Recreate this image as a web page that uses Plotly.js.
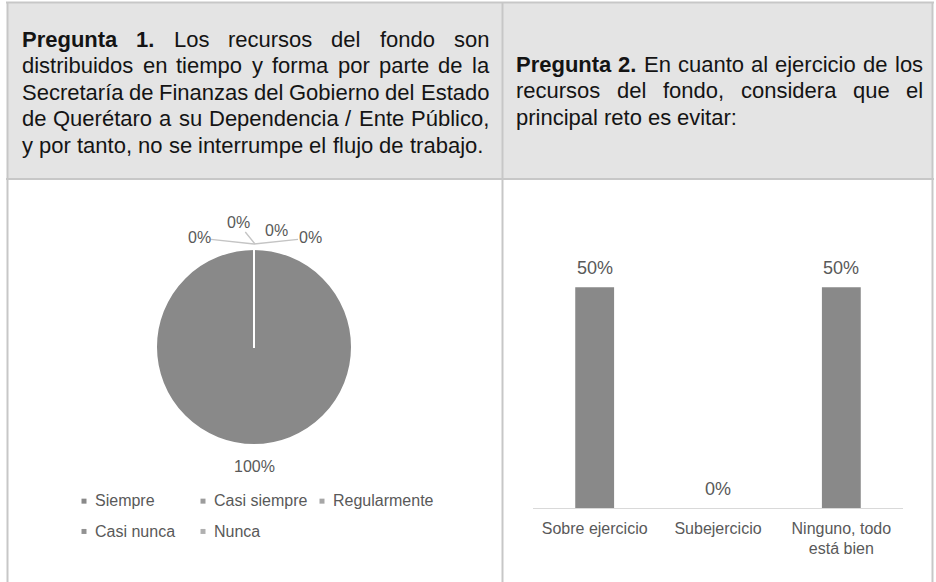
<!DOCTYPE html>
<html>
<head>
<meta charset="utf-8">
<script src="https://cdn.plot.ly/plotly-3.0.1.min.js"></script>
<style>
  html, body { margin: 0; padding: 0; background: #ffffff; overflow: hidden; }
  #wrap { position: relative; width: 936px; height: 582px; }
  #base, #bars { position: absolute; left: 0; top: 0; width: 936px; height: 582px; }
  .legendpie { d: path("M11.5,5.5H6.5V0.5H11.5Z"); stroke-width: 0 !important; }
  .legend .scrollbox { clip-path: none !important; }
</style>
</head>
<body>
<div id="wrap">
  <div id="base"></div>
  <div id="bars"></div>
</div>
<script>
// ---------------- DATA ----------------
const headerLeftLines = [
  ['*Pregunta', '*1.', 'Los', 'recursos', 'del', 'fondo', 'son'],
  ['distribuidos', 'en', 'tiempo', 'y', 'forma', 'por', 'parte', 'de', 'la'],
  ['Secretaría', 'de', 'Finanzas', 'del', 'Gobierno', 'del', 'Estado'],
  ['de', 'Querétaro', 'a', 'su', 'Dependencia', '/', 'Ente', 'Público,'],
  ['y', 'por', 'tanto,', 'no', 'se', 'interrumpe', 'el', 'flujo', 'de', 'trabajo.']
];
const headerRightLines = [
  ['*Pregunta', '*2.', 'En', 'cuanto', 'al', 'ejercicio', 'de', 'los'],
  ['recursos', 'del', 'fondo,', 'considera', 'que', 'el'],
  ['principal', 'reto', 'es', 'evitar:']
];

const pieLabels = ['Siempre', 'Casi siempre', 'Regularmente', 'Casi nunca', 'Nunca'];
const pieValues = [100, 0, 0, 0, 0];
const pieColors = ['#898989', '#9c9c9c', '#a6a6a6', '#929292', '#b0b0b0'];

const barCategories = ['Sobre ejercicio', 'Subejercicio', 'Ninguno, todo<br>está bien'];
const barValues = [0.5, 0, 0.5];

// ---------------- HELPERS ----------------
const W = 936, H = 582;
const FONT = 'Liberation Sans, Arial, sans-serif';
const TXT = '#595959';

// base figure plot area (legend wrapping depends on its width)
const mL = {l: 40, r: 533, t: 0, b: 0};
const pwL = W - mL.l - mL.r, phL = H - mL.t - mL.b;
const XL = px => (px - mL.l) / pwL;
const YL = py => (H - mL.b - py) / phL;

const canvas = document.createElement('canvas');
const ctx = canvas.getContext('2d');
function measure(t, bold, size) {
  ctx.font = (bold ? 'bold ' : '') + size + 'px "Liberation Sans"';
  return ctx.measureText(t).width;
}

function headerAnnotations(lines, left, right, baselines, size) {
  const anns = [];
  lines.forEach((words, i) => {
    const items = words.map(w => ({t: w.replace(/^\*/, ''), b: w.startsWith('*')}));
    const widths = items.map(it => measure(it.t, it.b, size));
    const total = widths.reduce((a, b) => a + b, 0);
    const isLast = i === lines.length - 1;
    const gap = (!isLast && items.length > 1) ? (right - left - total) / (items.length - 1)
                                              : measure(' ', false, size);
    let x = left;
    items.forEach((it, j) => {
      anns.push({
        xref: 'paper', yref: 'paper',
        x: XL(x), y: YL(baselines[i] - 0.345 * size),
        xanchor: 'left', yanchor: 'middle',
        text: it.b ? '<b>' + it.t + '</b>' : it.t,
        showarrow: false, borderpad: 0,
        font: {family: FONT, size: size, color: '#141414'}
      });
      x += widths[j] + gap;
    });
  });
  return anns;
}

// ---------------- TABLE (shapes) ----------------
const border = '#c7c7c7';
const shapes = [
  {type: 'rect', xref: 'paper', yref: 'paper', x0: XL(7), x1: XL(933), y0: YL(179), y1: YL(2),
   fillcolor: '#e4e4e4', line: {width: 0}, layer: 'below'},
  {type: 'line', xref: 'paper', yref: 'paper', x0: XL(6), x1: XL(934), y0: YL(2.5), y1: YL(2.5), line: {color: border, width: 2}},
  {type: 'line', xref: 'paper', yref: 'paper', x0: XL(6), x1: XL(934), y0: YL(179), y1: YL(179), line: {color: border, width: 2}},
  {type: 'line', xref: 'paper', yref: 'paper', x0: XL(7.5), x1: XL(7.5), y0: YL(2), y1: YL(590), line: {color: border, width: 2}},
  {type: 'line', xref: 'paper', yref: 'paper', x0: XL(502.5), x1: XL(502.5), y0: YL(2), y1: YL(590), line: {color: border, width: 2}},
  {type: 'line', xref: 'paper', yref: 'paper', x0: XL(932.5), x1: XL(932.5), y0: YL(2), y1: YL(590), line: {color: border, width: 2}}
];

let annotations = [];
annotations = annotations.concat(headerAnnotations(headerLeftLines, 21, 488, [47, 73.5, 100, 126.5, 153], 22));
annotations = annotations.concat(headerAnnotations(headerRightLines, 515, 922, [72, 98.5, 125], 22));

// ---------------- PIE ----------------
const pieTotal = pieValues.reduce((a, b) => a + b, 0);
const piePct = pieValues.map(v => Math.round(v / pieTotal * 100) + '%');

// label placement: non-zero slice below the pie, zero slices gathered at 12 o'clock
const mainLabelSpot = {tip: [254, 466], off: null};
const zeroLabelSpots = [
  {tip: [254, 244], off: [-55, -6]},
  {tip: [255, 244], off: [-17, -21]},
  {tip: [276, 230], off: null},
  {tip: [254, 244], off: [56, -6]}
];
let zi = 0;
pieValues.forEach((v, i) => {
  let s = null;
  if (v > 0) s = mainLabelSpot;
  else if (zi < zeroLabelSpots.length) s = zeroLabelSpots[zi++];
  if (!s) return;
  const a = {
    xref: 'paper', yref: 'paper', text: piePct[i],
    font: {family: FONT, size: 16, color: TXT}, borderpad: 0
  };
  if (s.off) {
    Object.assign(a, {x: XL(s.tip[0]), y: YL(s.tip[1]), showarrow: true, arrowhead: 0,
      arrowwidth: 1.3, arrowcolor: '#c4c4c4', ax: s.off[0], ay: s.off[1], standoff: 0});
  } else {
    Object.assign(a, {x: XL(s.tip[0]), y: YL(s.tip[1]), showarrow: false,
      xanchor: 'center', yanchor: 'middle'});
  }
  annotations.push(a);
});

const pieTrace = {
  type: 'pie',
  labels: pieLabels.map(l => '<span style="font-size:16px">' + l + '</span>'),
  values: pieValues,
  sort: false,
  direction: 'clockwise',
  rotation: 0,
  marker: {colors: pieColors, line: {color: '#ffffff', width: 2}},
  textinfo: 'none',
  textposition: 'none',
  domain: {x: [XL(156), XL(352)], y: [YL(445), YL(249)]},
  hoverinfo: 'skip'
};

const baseLayout = {
  width: W, height: H,
  margin: {l: mL.l, r: mL.r, t: mL.t, b: mL.b, pad: 0, autoexpand: false},
  paper_bgcolor: '#ffffff', plot_bgcolor: 'rgba(0,0,0,0)',
  font: {family: FONT, color: TXT},
  showlegend: true,
  legend: {
    // labels drawn at 16px inside a 21px line box to get the reference row pitch
    orientation: 'h', x: XL(55), xanchor: 'left', y: YL(478), yanchor: 'top',
    entrywidth: 74, entrywidthmode: 'pixels',
    font: {family: FONT, size: 21, color: TXT},
    bgcolor: 'rgba(0,0,0,0)', borderwidth: 0, traceorder: 'normal'
  },
  shapes: shapes,
  annotations: annotations,
  hovermode: false
};

// ---------------- BARS ----------------
const mR = {l: 533, r: 33, t: 243, b: 74};
const barTrace = {
  type: 'bar',
  x: barCategories,
  y: barValues,
  marker: {color: '#898989'},
  hoverinfo: 'skip',
  cliponaxis: false
};
const barAnnotations = barCategories.map((c, i) => ({
  x: c, y: barValues[i], xref: 'x', yref: 'y',
  text: Math.round(barValues[i] * 100) + '%',
  showarrow: false, xanchor: 'center', yanchor: 'bottom', yshift: 7,
  font: {family: FONT, size: 18, color: TXT}
}));
const barLayout = {
  width: W, height: H,
  margin: {l: mR.l, r: mR.r, t: mR.t, b: mR.b, pad: 0, autoexpand: false},
  paper_bgcolor: 'rgba(0,0,0,0)', plot_bgcolor: 'rgba(0,0,0,0)',
  font: {family: FONT, color: TXT},
  bargap: 0.685,
  showlegend: false,
  xaxis: {type: 'category', showline: true, linecolor: '#d9d9d9', linewidth: 1.3,
          ticks: '', showgrid: false, zeroline: false, ticklabelstandoff: 5,
          tickfont: {family: FONT, size: 16, color: TXT}, fixedrange: true},
  yaxis: {range: [0, 0.6], visible: false, showgrid: false, zeroline: false, fixedrange: true},
  annotations: barAnnotations,
  hovermode: false
};

const cfg = {displayModeBar: false, staticPlot: true};
Plotly.newPlot('base', [pieTrace], baseLayout, cfg);
Plotly.newPlot('bars', [barTrace], barLayout, cfg);
</script>
</body>
</html>
